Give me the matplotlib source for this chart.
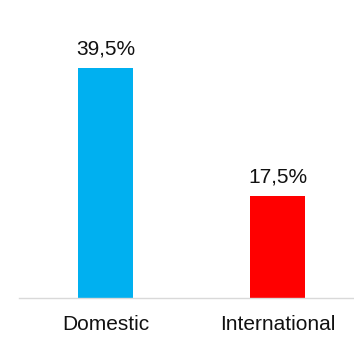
import matplotlib
matplotlib.use("Agg")
import matplotlib.pyplot as plt

categories = ["Domestic", "International"]
values = [39.5, 17.5]
labels = ["39,5%", "17,5%"]
colors = ["#00B0F0", "#FF0000"]

plt.rcParams["font.family"] = ["Liberation Sans", "DejaVu Sans"]

W, H, dpi = 354, 337, 100
fig = plt.figure(figsize=(W / dpi, H / dpi), dpi=dpi)

# axes placement in pixels: baseline at y=297.5, left edge at x=19
base_px = 297.5
top_px = 10
ax = fig.add_axes([19 / W, (H - base_px) / H, 1 - 19 / W, (base_px - top_px) / H])

px_per_unit = 5.8
ax.set_ylim(0, (base_px - top_px) / px_per_unit)
ax.set_xlim(-0.503, 1.445)

x = range(len(categories))
ax.bar(x, values, width=0.32, color=colors, zorder=2)

for xi, v, lab in zip(x, values, labels):
    ax.annotate(lab, (xi, v), xytext=(0, 7), textcoords="offset points",
                ha="center", va="bottom", fontsize=15, color="#111111")

for s in ["top", "right", "left"]:
    ax.spines[s].set_visible(False)
ax.spines["bottom"].set_color("#d9d9d9")
ax.spines["bottom"].set_linewidth(1.0)
ax.set_yticks([])
ax.set_xticks(list(x))
ax.set_xticklabels(categories, fontsize=15, color="#111111")
ax.tick_params(axis="x", length=0, pad=12.5)

fig.savefig("out.png", dpi=dpi)
